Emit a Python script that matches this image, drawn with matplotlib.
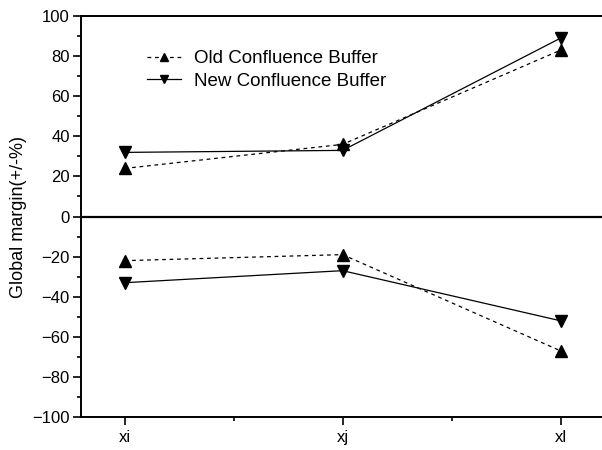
import matplotlib
matplotlib.use("Agg")
import matplotlib.pyplot as plt
from matplotlib.ticker import MultipleLocator, FixedLocator

plt.rcParams["font.family"] = ["Liberation Sans", "DejaVu Sans"]

categories = ["xi", "xj", "xl"]
old_upper = [24, 36, 83]
new_upper = [32, 33, 89]
old_lower = [-22, -19, -67]
new_lower = [-33, -27, -52]

x = [1, 2, 3]

fig = plt.figure(figsize=(6.02, 4.5), dpi=100)
ax = fig.add_axes([0.1346, 0.0733, 0.869, 0.891])

ax.plot(x, old_upper, color="black", linestyle=(0, (3, 3)), linewidth=0.9,
        marker="^", markersize=8, label="Old Confluence Buffer")
ax.plot(x, new_upper, color="black", linestyle="-", linewidth=0.9,
        marker="v", markersize=8, label="New Confluence Buffer")
ax.plot(x, old_lower, color="black", linestyle=(0, (3, 3)), linewidth=0.9,
        marker="^", markersize=8)
ax.plot(x, new_lower, color="black", linestyle="-", linewidth=0.9,
        marker="v", markersize=8)

ax.axhline(0, color="black", linewidth=1.6)

ax.set_xlim(0.8, 3.2)
ax.set_ylim(-100, 100)
ax.set_xticks(x, categories)
ax.xaxis.set_minor_locator(FixedLocator([1.5, 2.5]))
ax.yaxis.set_major_locator(MultipleLocator(20))
ax.yaxis.set_minor_locator(MultipleLocator(10))
ax.tick_params(which="both", direction="out", width=1.2)
ax.tick_params(axis="y", labelsize=12, pad=2)
ax.tick_params(axis="x", labelsize=12)
ax.tick_params(which="major", length=6)
ax.tick_params(which="minor", length=3)
for side in ["left", "top", "bottom", "right"]:
    ax.spines[side].set_linewidth(1.4)

ax.set_ylabel("Global margin(+/-%)", fontsize=13)

ax.legend(loc="upper left", bbox_to_anchor=(0.126, 0.915), frameon=False,
          borderaxespad=0, borderpad=0, fontsize=13.5, markerscale=0.7,
          handlelength=1.8, handletextpad=0.7, labelspacing=0.3)

fig.savefig("out.png", dpi=100)
